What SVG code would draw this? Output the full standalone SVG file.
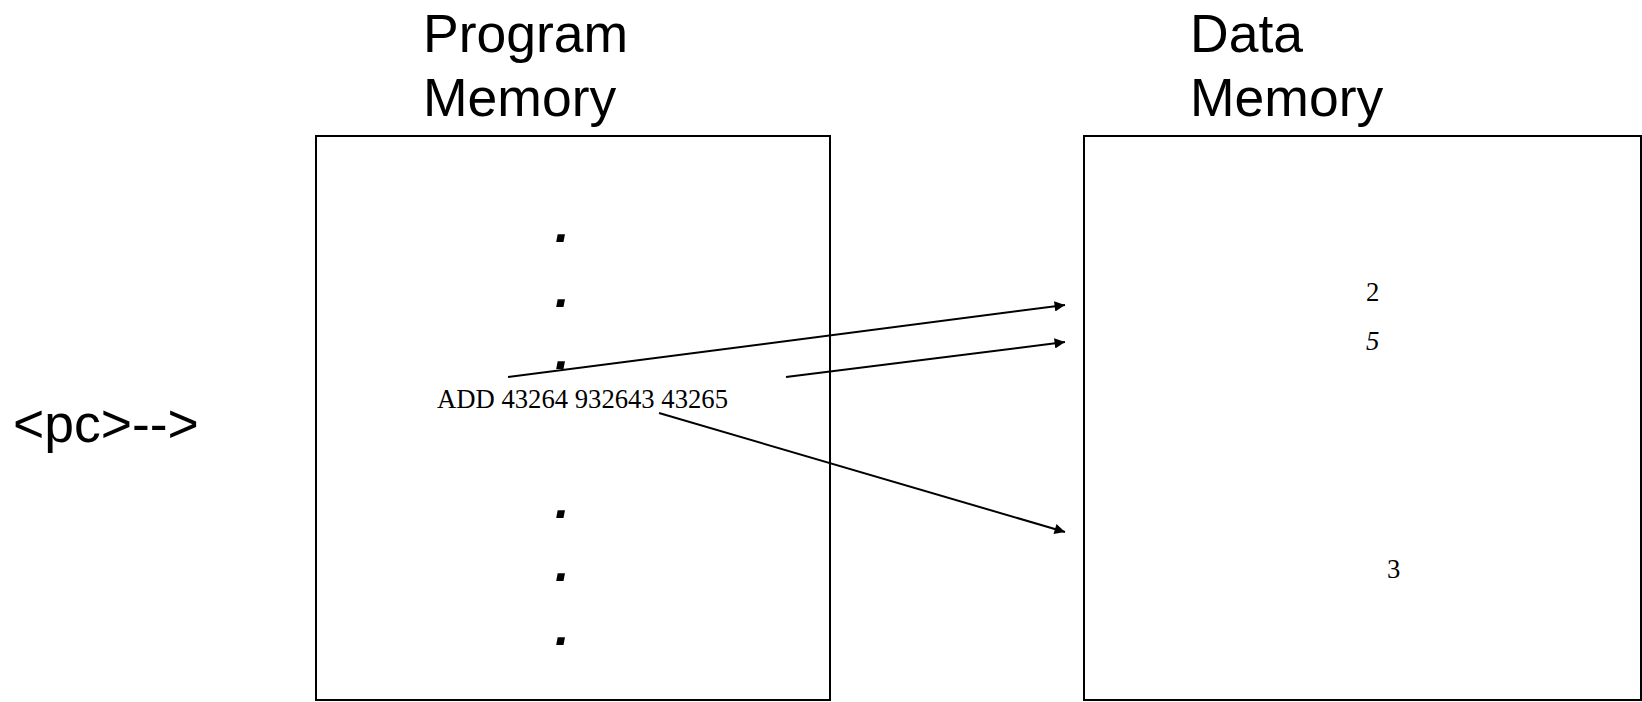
<svg xmlns="http://www.w3.org/2000/svg" width="1642" height="702" viewBox="0 0 1642 702">
<style>
.title{font-family:"Liberation Sans",Arial,sans-serif;font-size:53.5px;fill:#000}
.mono{font-family:"Liberation Serif","Times New Roman",serif;font-size:26.67px;fill:#000}
.dot{font-family:"Liberation Sans",Arial,sans-serif;font-size:52px;font-weight:bold;font-style:italic;fill:#000}
.box{fill:#fff;stroke:#000;stroke-width:2}
.conn{stroke:#000;stroke-width:2;fill:none}
</style>
<defs>
<marker id="ah" viewBox="0 0 10 10" refX="10" refY="5" markerWidth="8" markerHeight="5.2" markerUnits="strokeWidth" orient="auto">
<path d="M0,0 L10,5 L0,10 z" fill="#000"/>
</marker>
</defs>
<rect width="1642" height="702" fill="#fff"/>
<g id="pc-label"><text class="title" x="13" y="442">&lt;pc&gt;--&gt;</text></g>
<g id="program-memory">
<text class="title" x="423" y="52">Program</text>
<text class="title" x="423" y="116">Memory</text>
<rect class="box" x="316" y="136" width="514" height="564"/>
<text class="dot" x="555" y="242">.</text>
<text class="dot" x="555" y="307">.</text>
<text class="dot" x="555" y="369">.</text>
<text class="dot" x="555" y="518">.</text>
<text class="dot" x="555" y="581">.</text>
<text class="dot" x="555" y="645">.</text>
<text class="mono" x="437" y="408">ADD 43264 932643 43265</text>
</g>
<g id="data-memory">
<text class="title" x="1190" y="52">Data</text>
<text class="title" x="1190" y="116">Memory</text>
<rect class="box" x="1084" y="136" width="557" height="564"/>
<text class="mono" x="1366" y="301">2</text>
<text class="mono" x="1366" y="350" font-style="italic">5</text>
<text class="mono" x="1387" y="578">3</text>
</g>
<g id="connectors">
<line class="conn" x1="508" y1="377" x2="1065" y2="305" marker-end="url(#ah)"/>
<line class="conn" x1="786" y1="377" x2="1065" y2="342" marker-end="url(#ah)"/>
<line class="conn" x1="659" y1="413" x2="1065" y2="532" marker-end="url(#ah)"/>
</g>
</svg>
